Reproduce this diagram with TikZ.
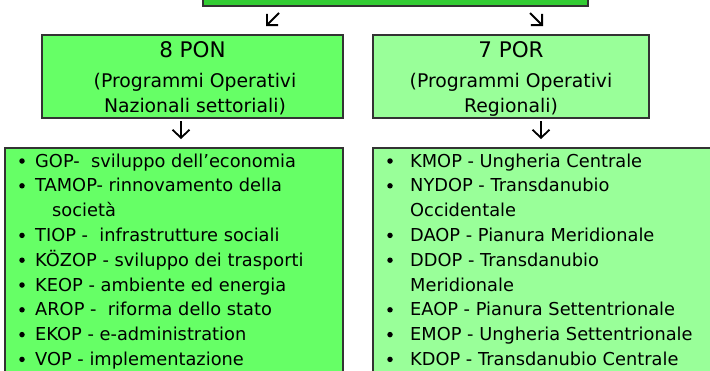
\documentclass[tikz,border=0pt]{standalone}
\usepackage{fontspec}
\setmainfont{DejaVu Sans}
\usetikzlibrary{arrows.meta}
\definecolor{topgreen}{HTML}{33CC33}
\definecolor{pongreen}{HTML}{66FF66}
\definecolor{porgreen}{HTML}{99FF99}
\definecolor{edgegray}{HTML}{333333}
\begin{document}
\begin{tikzpicture}[x=1pt,y=-1pt,
  box/.style={draw=edgegray,line width=1.5pt,inner sep=0pt,outer sep=0pt,anchor=north west},
  headtxt/.style={anchor=base,font=\fontsize{18.8}{20}\selectfont,inner sep=0pt},
  titletxt/.style={anchor=base,font=\fontsize{21.5}{23}\selectfont,inner sep=0pt},
  itemtxt/.style={anchor=base west,font=\fontsize{17.8}{20}\selectfont,inner sep=0pt},
  bul/.style={circle,fill=black,minimum size=5.5pt,inner sep=0pt},
  arr/.style={line width=1.8pt,-{Straight Barb[length=8pt,width=16pt,line width=1.8pt]}},
  darr/.style={line width=1.8pt,-{Straight Barb[length=8pt,width=17pt,line width=1.8pt]}}
]
\useasboundingbox (0,0) rectangle (710,370);
\clip (0,0) rectangle (710,370);
\fill[white] (0,0) rectangle (710,370);
% boxes
\node[box,fill=topgreen,minimum width=385pt,minimum height=30pt] (top) at (203,-24) {};
\node[box,fill=pongreen,minimum width=301pt,minimum height=83pt] (pon) at (42,35) {};
\node[box,fill=porgreen,minimum width=276pt,minimum height=83pt] (por) at (373,35) {};
\node[box,fill=pongreen,minimum width=338pt,minimum height=240pt] (ponlist) at (5,148) {};
\node[box,fill=porgreen,minimum width=350pt,minimum height=240pt] (porlist) at (373,148) {};
% arrows
\coordinate (a1s) at (279,13); \coordinate (a1e) at (266,26);
\coordinate (a2s) at (530,13); \coordinate (a2e) at (543,26);
\coordinate (d1s) at (181,121); \coordinate (d1e) at (181,139);
\coordinate (d2s) at (541,121); \coordinate (d2e) at (541,139);
\draw[arr] (a1s) -- (a1e);
\draw[arr] (a2s) -- (a2e);
\draw[darr] (d1s) -- (d1e);
\draw[darr] (d2s) -- (d2e);
% headers
\node[titletxt] (pont) at (192.5,57.5) {8 PON};
\node[headtxt] (pon1) at (195,87) {(Programmi Operativi};
\node[headtxt] (pon2) at (195,112) {Nazionali settoriali)};
\node[titletxt] (port) at (511,57.5) {7 POR};
\node[headtxt] (por1) at (511,87) {(Programmi Operativi};
\node[headtxt] (por2) at (511,112) {Regionali)};
% left list
\foreach \r in {0,1,3,4,5,6,7,8} \node[bul] (lb\r) at (22,167+24.8*\r-6) {};
\node[itemtxt] (l0) at (35,167) {GOP-\ \ sviluppo dell’economia};
\node[itemtxt] (l1) at (35,191.8) {TAMOP- rinnovamento della};
\node[itemtxt] (l2) at (52,216.6) {società};
\node[itemtxt] (l3) at (35,241.4) {TIOP -\ \ infrastrutture sociali};
\node[itemtxt] (l4) at (35,266.2) {KÖZOP - sviluppo dei trasporti};
\node[itemtxt] (l5) at (35,291) {KEOP - ambiente ed energia};
\node[itemtxt] (l6) at (35,315.8) {AROP -\ \ riforma dello stato};
\node[itemtxt] (l7) at (35,340.6) {EKOP - e-administration};
\node[itemtxt] (l8) at (35,365.4) {VOP - implementazione};
% right list
\foreach \r in {0,1,3,4,6,7,8} \node[bul] (rb\r) at (390,167+24.8*\r-6) {};
\node[itemtxt] (r0) at (410,167) {KMOP - Ungheria Centrale};
\node[itemtxt] (r1) at (410,191.8) {NYDOP - Transdanubio};
\node[itemtxt] (r2) at (410,216.6) {Occidentale};
\node[itemtxt] (r3) at (410,241.4) {DAOP - Pianura Meridionale};
\node[itemtxt] (r4) at (410,266.2) {DDOP - Transdanubio};
\node[itemtxt] (r5) at (410,291) {Meridionale};
\node[itemtxt] (r6) at (410,315.8) {EAOP - Pianura Settentrionale};
\node[itemtxt] (r7) at (410,340.6) {EMOP - Ungheria Settentrionale};
\node[itemtxt] (r8) at (410,365.4) {KDOP - Transdanubio Centrale};
\end{tikzpicture}
\end{document}
